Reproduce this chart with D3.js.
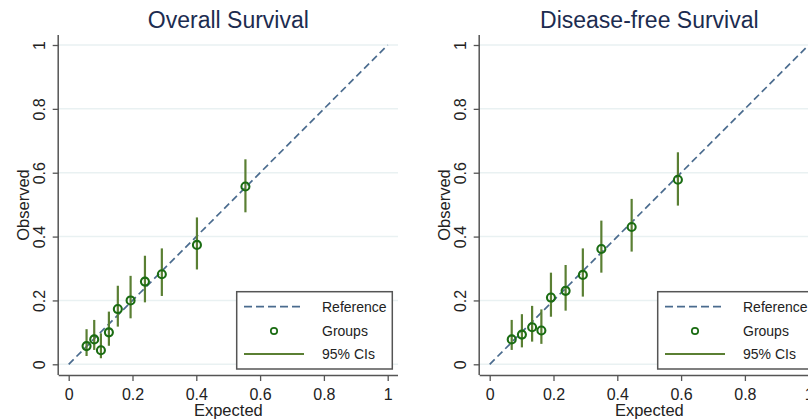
<!DOCTYPE html>
<html>
<head>
<meta charset="utf-8">
<script src="https://cdn.jsdelivr.net/npm/d3@7"></script>
<style>
  body { margin: 0; background: #fff; }
  svg { display: block; font-family: "Liberation Sans", Arial, sans-serif; }
</style>
</head>
<body>
<div id="chart"></div>
<script>

// calibration data

var titles = ["Overall Survival", "Disease-free Survival"];
var ticks = [0, 0.2, 0.4, 0.6, 0.8, 1];
var tickLabels = ["0", "0.2", "0.4", "0.6", "0.8", "1"];
var legendLabels = ["Reference", "Groups", "95% CIs"];

var osExpected = [0.056, 0.080, 0.101, 0.126, 0.154, 0.194, 0.239, 0.292, 0.402, 0.554];
var osObserved = [0.057, 0.078, 0.044, 0.100, 0.173, 0.200, 0.259, 0.282, 0.374, 0.557];
var osLower    = [0.026, 0.045, 0.019, 0.058, 0.118, 0.144, 0.194, 0.214, 0.297, 0.476];
var osUpper    = [0.110, 0.139, 0.097, 0.165, 0.246, 0.277, 0.340, 0.363, 0.460, 0.642];

var dfsExpected = [0.069, 0.101, 0.133, 0.162, 0.192, 0.238, 0.292, 0.350, 0.445, 0.590];
var dfsObserved = [0.078, 0.093, 0.116, 0.106, 0.209, 0.230, 0.280, 0.361, 0.430, 0.578];
var dfsLower    = [0.045, 0.053, 0.071, 0.064, 0.149, 0.168, 0.212, 0.287, 0.353, 0.497];
var dfsUpper    = [0.139, 0.157, 0.183, 0.172, 0.287, 0.311, 0.363, 0.450, 0.518, 0.664];

var width = 808,
    height = 420;

var svg = d3.select("#chart")
  .append("svg")
    .attr("width", width)
    .attr("height", height);

// colours

var refColor = "#4a6b8e",
    ptColor = "#1a6c12",
    ciColor = "#5a7f33",
    titleColor = "#1c2c50",
    axisColor = "#555555",
    gridColor = "#e9f1f2";

function zip(ex, ob, lo, hi) {
  return ex.map(function(d, i) {
    return { expected: d, observed: ob[i], lower: lo[i], upper: hi[i] };
  });
}

function panel(offsetX, title, data) {

  // plot region and scales

  var left = 58.7, right = 398, top = 35, bottom = 375;

  var xScale = d3.scaleLinear().domain([0, 1]).range([68.7, 387.7]);
  var yScale = d3.scaleLinear().domain([0, 1]).range([364.3, 45]);

  var g = svg.append("g")
    .attr("transform", "translate(" + offsetX + ",0)");

  // gridlines

  g.selectAll(".grid")
    .data(ticks)
    .enter()
    .append("line")
      .attr("x1", left)
      .attr("x2", right)
      .attr("y1", function(d) { return yScale(d); })
      .attr("y2", function(d) { return yScale(d); })
      .attr("stroke", gridColor)
      .attr("stroke-width", 1.5);

  // axes

  var xAxis = g.append("g")
    .attr("transform", "translate(0," + bottom + ")")
    .call(d3.axisBottom(xScale).tickValues(ticks)
      .tickFormat(function(d, i) { return tickLabels[i]; })
      .tickSize(6).tickPadding(8).tickSizeOuter(0));

  xAxis.select(".domain").attr("d", "M" + left + ",0.5H" + right);

  var yAxis = g.append("g")
    .attr("transform", "translate(" + left + ",0)")
    .call(d3.axisLeft(yScale).tickValues(ticks)
      .tickFormat(function(d, i) { return tickLabels[i]; })
      .tickSize(6).tickSizeOuter(0));

  yAxis.select(".domain").attr("d", "M-0.5," + top + "V" + bottom);

  [xAxis, yAxis].forEach(function(ax) {
    ax.select(".domain").attr("stroke", axisColor).attr("stroke-width", 1.5);
    ax.selectAll(".tick line").attr("stroke", axisColor).attr("stroke-width", 1.3);
    ax.selectAll(".tick text")
      .attr("fill", "#222")
      .style("font-size", "16px")
      .style("font-family", "'Liberation Sans', Arial, sans-serif");
  });

  xAxis.selectAll(".tick text").attr("dy", "0.71em");

  // rotated y tick labels

  yAxis.selectAll(".tick text")
    .attr("x", null)
    .attr("dy", null)
    .attr("text-anchor", "middle")
    .attr("transform", "translate(-13.5,0) rotate(-90)");

  // axis titles

  g.append("text")
    .attr("x", (left + right) / 2)
    .attr("y", 416)
    .attr("text-anchor", "middle")
    .attr("fill", "#222")
    .style("font-size", "16.5px")
    .text("Expected");

  g.append("text")
    .attr("transform", "translate(29," + (top + bottom) / 2 + ") rotate(-90)")
    .attr("text-anchor", "middle")
    .attr("fill", "#222")
    .style("font-size", "16.5px")
    .text("Observed");

  // title

  g.append("text")
    .attr("x", (left + right) / 2)
    .attr("y", 28)
    .attr("text-anchor", "middle")
    .attr("fill", titleColor)
    .style("font-size", "23px")
    .text(title);

  // reference line

  g.append("line")
    .attr("x1", xScale(0))
    .attr("y1", yScale(0))
    .attr("x2", xScale(1))
    .attr("y2", yScale(1))
    .attr("stroke", refColor)
    .attr("stroke-width", 1.7)
    .attr("stroke-dasharray", "7,4");

  // confidence intervals

  g.selectAll(".ci")
    .data(data)
    .enter()
    .append("line")
      .attr("class", "ci")
      .attr("x1", function(d) { return xScale(d.expected); })
      .attr("x2", function(d) { return xScale(d.expected); })
      .attr("y1", function(d) { return yScale(d.lower); })
      .attr("y2", function(d) { return yScale(d.upper); })
      .attr("stroke", ciColor)
      .attr("stroke-width", 2.2);

  // groups

  g.selectAll(".pt")
    .data(data)
    .enter()
    .append("circle")
      .attr("class", "pt")
      .attr("cx", function(d) { return xScale(d.expected); })
      .attr("cy", function(d) { return yScale(d.observed); })
      .attr("r", 4)
      .attr("fill", "none")
      .attr("stroke", ptColor)
      .attr("stroke-width", 2.1);

  // legend

  var lg = g.append("g");

  lg.append("rect")
    .attr("x", 236.7)
    .attr("y", 291.7)
    .attr("width", 155.6)
    .attr("height", 77.3)
    .attr("fill", "#fff")
    .attr("stroke", axisColor)
    .attr("stroke-width", 1.5);

  var rowY = [306.7, 331, 354];

  lg.append("line")
    .attr("x1", 244).attr("x2", 304)
    .attr("y1", rowY[0]).attr("y2", rowY[0])
    .attr("stroke", refColor)
    .attr("stroke-width", 1.7)
    .attr("stroke-dasharray", "8,4");

  lg.append("circle")
    .attr("cx", 274)
    .attr("cy", rowY[1])
    .attr("r", 3.2)
    .attr("fill", "none")
    .attr("stroke", ptColor)
    .attr("stroke-width", 1.7);

  lg.append("line")
    .attr("x1", 244).attr("x2", 304)
    .attr("y1", rowY[2]).attr("y2", rowY[2])
    .attr("stroke", ciColor)
    .attr("stroke-width", 2);

  lg.selectAll(".lgtext")
    .data(legendLabels)
    .enter()
    .append("text")
      .attr("x", 322)
      .attr("y", function(d, i) { return rowY[i] + 5; })
      .attr("fill", "#222")
      .style("font-size", "14px")
      .text(function(d) { return d; });
}

panel(0, titles[0], zip(osExpected, osObserved, osLower, osUpper));
panel(421, titles[1], zip(dfsExpected, dfsObserved, dfsLower, dfsUpper));

</script>
</body>
</html>
